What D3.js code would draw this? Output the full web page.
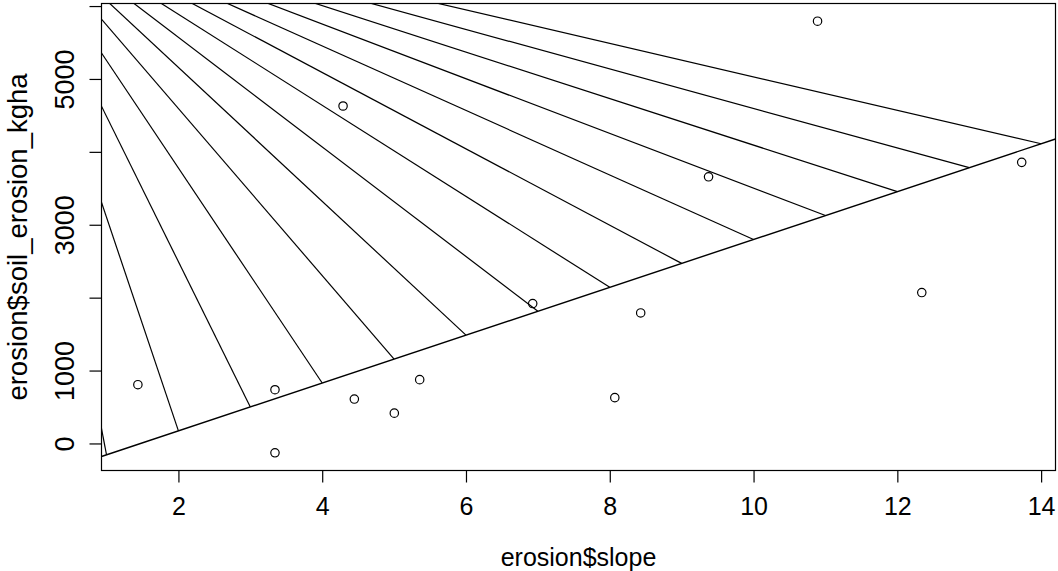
<!DOCTYPE html>
<html>
<head>
<meta charset="utf-8">
<script src="https://cdn.jsdelivr.net/npm/d3@7"></script>
<style>
  html, body { margin: 0; padding: 0; background: #fff; }
  svg { display: block; font-family: "Liberation Sans", Arial, Helvetica, sans-serif; }
</style>
</head>
<body>
<svg id="chart" width="1058" height="571"></svg>
<script>
// Observations: slope (x) and soil erosion in kg/ha (y)
const slope = [1.436, 3.343, 3.343, 4.447, 4.29, 5.003, 5.356, 6.928, 8.07, 8.43, 9.374, 10.89, 13.73, 12.34];
const erosion = [806, 737, -128, 609, 4629, 416, 875, 1919, 628, 1790, 3658, 5792, 3856, 2070];

// Fitted line: intercept and slope
const fitIntercept = -484;
const fitSlope = 328.2;

// Positions along the fitted line that are joined to a common point
const fanX = [1, 2, 3, 4, 5, 6, 7, 8, 9, 10, 11, 12, 13, 14];
const fanApex = [-0.48, 7435];

// Axis domains and ticks
const xDomain = [0.93, 14.2];
const yDomain = [-371, 6035];
const xTicks = [2, 4, 6, 8, 10, 12, 14];
const yTicks = [0, 1000, 2000, 3000, 4000, 5000, 6000];
const yTickLabels = ["0", "", "", "3000", "", "5000", ""];
yTickLabels[1] = "1000";

const xTitle = "erosion$slope";
const yTitle = "erosion$soil_erosion_kgha";

const svg = d3.select("#chart");
const box = { left: 101.5, right: 1055.5, top: 3.5, bottom: 470.5 };

const x = d3.scaleLinear().domain(xDomain).range([box.left, box.right]);
const y = d3.scaleLinear().domain(yDomain).range([box.bottom, box.top]);

svg.append("defs").append("clipPath").attr("id", "plot-clip")
  .append("rect")
  .attr("x", box.left).attr("y", box.top)
  .attr("width", box.right - box.left).attr("height", box.bottom - box.top);

const plot = svg.append("g").attr("clip-path", "url(#plot-clip)");

// Fan of segments from the fitted line to the common point
plot.selectAll("line.fan").data(fanX).enter().append("line")
  .attr("class", "fan")
  .attr("x1", d => x(d))
  .attr("y1", d => y(fitIntercept + fitSlope * d))
  .attr("x2", x(fanApex[0]))
  .attr("y2", y(fanApex[1]))
  .attr("stroke", "#000").attr("stroke-width", 1.2);

// Fitted line across the whole plot
plot.append("line")
  .attr("x1", x(xDomain[0])).attr("y1", y(fitIntercept + fitSlope * xDomain[0]))
  .attr("x2", x(xDomain[1])).attr("y2", y(fitIntercept + fitSlope * xDomain[1]))
  .attr("stroke", "#000").attr("stroke-width", 1.4);

// Points
plot.selectAll("circle.pt").data(slope.map((s, i) => [s, erosion[i]])).enter().append("circle")
  .attr("class", "pt")
  .attr("cx", d => x(d[0])).attr("cy", d => y(d[1]))
  .attr("r", 4.2)
  .attr("fill", "none").attr("stroke", "#000").attr("stroke-width", 1.2);

// Box
svg.append("rect")
  .attr("x", box.left).attr("y", box.top)
  .attr("width", box.right - box.left).attr("height", box.bottom - box.top)
  .attr("fill", "none").attr("stroke", "#000").attr("stroke-width", 1.2);

// X axis
const gx = svg.append("g").attr("transform", `translate(0,${box.bottom})`)
  .call(d3.axisBottom(x).tickValues(xTicks).tickSize(12).tickSizeOuter(0).tickFormat(d3.format("d")));
gx.select(".domain").remove();
gx.selectAll(".tick line").attr("stroke", "#000").attr("stroke-width", 1.2);
gx.selectAll(".tick text")
  .attr("y", 44.5).attr("dy", 0)
  .attr("font-size", 25).attr("fill", "#000")
  .attr("font-family", "'Liberation Sans', Arial, sans-serif");

// Y axis
const gy = svg.append("g").attr("transform", `translate(${box.left},0)`)
  .call(d3.axisLeft(y).tickValues(yTicks).tickSize(12).tickSizeOuter(0)
    .tickFormat((d, i) => yTickLabels[i]));
gy.select(".domain").remove();
gy.selectAll(".tick line").attr("stroke", "#000").attr("stroke-width", 1.2);
gy.selectAll(".tick text")
  .attr("x", 0).attr("y", 0).attr("dy", 0)
  .attr("transform", "translate(-27.5,0) rotate(-90)")
  .attr("text-anchor", "middle")
  .attr("font-size", 27).attr("fill", "#000")
  .attr("font-family", "'Liberation Sans', Arial, sans-serif");

// Axis titles
svg.append("text")
  .attr("x", (box.left + box.right) / 2).attr("y", 565.5)
  .attr("text-anchor", "middle").attr("font-size", 25).attr("fill", "#000")
  .text(xTitle);

svg.append("text")
  .attr("transform", `translate(27,${(box.top + box.bottom) / 2}) rotate(-90)`)
  .attr("text-anchor", "middle").attr("font-size", 27.5).attr("fill", "#000")
  .text(yTitle);
</script>
</body>
</html>
